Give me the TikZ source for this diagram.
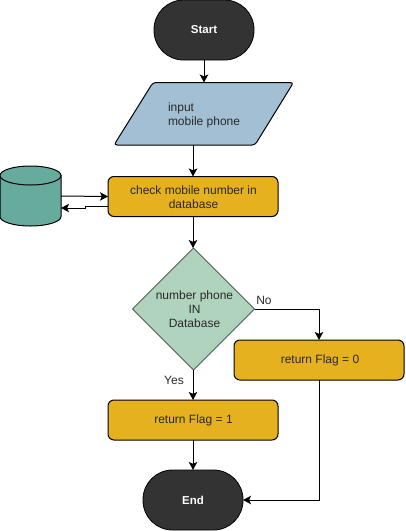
\documentclass[tikz,border=0pt]{standalone}
\usepackage{fontspec}
\setmainfont{Liberation Sans}
\usetikzlibrary{arrows.meta,shapes.geometric}
\definecolor{darkfill}{HTML}{333333}
\definecolor{inputfill}{HTML}{A3BFD4}
\definecolor{procfill}{HTML}{E6B11E}
\definecolor{decfill}{HTML}{B0D3BE}
\definecolor{dbfill}{HTML}{67AB9F}
\definecolor{inkc}{HTML}{2A2A2A}
\tikzset{
  every node/.style={font=\fontsize{12}{14}\selectfont,text=inkc,align=center,inner sep=0pt,outer sep=0pt},
  terminal/.style={draw=black,line width=0.8pt,fill=darkfill,text=white,font=\fontsize{11.5}{14}\selectfont\bfseries,rounded corners=29.5pt,minimum width=100pt,minimum height=60pt},
  process/.style={draw=black,line width=1pt,fill=procfill,rounded corners=6pt,minimum width=170pt,minimum height=40pt},
  decision/.style={diamond,draw=black!55!decfill,line width=1pt,fill=decfill,minimum width=122pt,minimum height=122pt},
  inputshape/.style={draw=black,line width=1pt,fill=inputfill,rounded corners=3pt},
  dbshape/.style={draw=black,line width=1pt,fill=dbfill},
  link/.style={draw=black,line width=1pt,-{Stealth[length=8pt,width=8.5pt,inset=1.8pt]}}
}
\begin{document}
\begin{tikzpicture}[x=1pt,y=-1pt]
\useasboundingbox (0,0) rectangle (405,531);
\node[terminal] (start) at (204,30) {Start};
\path[inputshape] (153,82.5) -- (293.5,82.5) -- (255,145) -- (114,145) -- cycle;
\node[minimum width=141pt,minimum height=62.5pt] (input) at (204,113.75) {};
\node[anchor=west,align=left] (inputtext) at (168,115.5) {input\\mobile phone};
\node[process] (check) at (193,196.5) {};
\node (checktext) at (193.5,197) {check mobile number in\\database};
\node[minimum width=61pt,minimum height=60pt] (db) at (30.5,196) {};
\path[dbshape] (0,175.5) -- (61,175.5) -- (61,216.5) arc[x radius=30.5,y radius=9.5,start angle=0,end angle=180] -- cycle;
\path[dbshape] (30.5,175.5) circle[x radius=30.5,y radius=9.5];
\node[decision] (dec) at (193.5,309) {};
\node (dectext) at (194.5,309.5) {number phone\\IN\\Database};
\node[process] (flagzero) at (319,360) {};
\node (flagzerotext) at (320,360.5) {return Flag = 0};
\node[process] (flagone) at (193,420) {};
\node (flagonetext) at (193.5,420.5) {return Flag = 1};
\node[terminal] (end) at (193,500) {End};
\node (nolabel) at (264,300.5) {No};
\node (yeslabel) at (174,380.5) {Yes};
\coordinate (backa) at (108,206);
\coordinate (backb) at (85,206);
\coordinate (backc) at (85,208);
\coordinate (backd) at (61,208);
\draw[link] (start.south) -- (input.north);
\draw[link] (check.north |- input.south) -- (check.north);
\draw[link] (db.east) -- (check.west);
\draw[link] (backa) -- (backb) -- (backc) -- (backd);
\draw[link] (check.south) -- (dec.north -| check.south);
\draw[link] (dec.east) -| (flagzero.north);
\draw[link] (dec.south -| flagone.north) -- (flagone.north);
\draw[link] (flagone.south) -- (end.north);
\draw[link] (flagzero.south) |- (end.east);
\end{tikzpicture}
\end{document}
